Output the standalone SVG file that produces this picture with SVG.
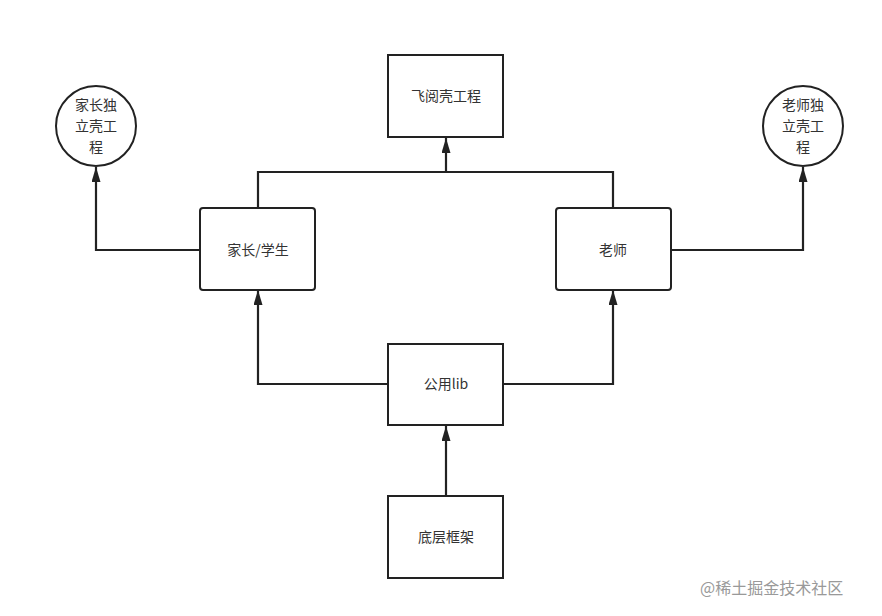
<svg xmlns="http://www.w3.org/2000/svg" width="882" height="616" viewBox="0 0 882 616">
<style>
.b{fill:#fff;stroke:#222;stroke-width:2}
.t{font-family:"Noto Sans CJK SC",sans-serif;font-size:14px;fill:#333;text-anchor:middle}
.c{fill:none;stroke:#222;stroke-width:2.2}
.w{font-family:"Noto Sans CJK SC",sans-serif;font-size:16px;fill:#999}
</style>
<defs>
<marker id="m" viewBox="0 0 10 10" refX="10" refY="5" markerWidth="15" markerHeight="9" orient="auto" markerUnits="userSpaceOnUse" preserveAspectRatio="none"><path d="M0,0L10,5L0,10z" fill="#222"/></marker></defs>
<rect width="882" height="616" fill="#fff"/>
<g id="connectors">
<path class="c" marker-end="url(#m)" d="M446,496V426"/>
<path class="c" marker-end="url(#m)" d="M388,384H258V290"/>
<path class="c" marker-end="url(#m)" d="M503,384H613V290"/>
<path class="c" marker-end="url(#m)" d="M258,208V172H446V138"/>
<path class="c" d="M613,208V172H446"/>
<path class="c" marker-end="url(#m)" d="M200,250H96V167"/>
<path class="c" marker-end="url(#m)" d="M671,250H803V167"/>
</g>
<g id="n1"><rect class="b" x="388" y="55" width="115" height="82"/><text class="t" x="446" y="101">飞阅壳工程</text></g>
<g id="n2"><rect class="b" x="200" y="208" width="115" height="82" rx="3"/><text class="t" x="258" y="255">家长/学生</text></g>
<g id="n3"><rect class="b" x="556" y="208" width="115" height="82" rx="3"/><text class="t" x="613" y="255">老师</text></g>
<g id="n4"><rect class="b" x="388" y="344" width="115" height="81"/><text class="t" x="446" y="389">公用lib</text></g>
<g id="n5"><rect class="b" x="388" y="496" width="115" height="82"/><text class="t" x="446" y="542">底层框架</text></g>
<g id="n6"><circle class="b" cx="96" cy="126" r="40" stroke-width="2.5"/><text class="t" x="96" y="110">家长独</text><text class="t" x="96" y="131">立壳工</text><text class="t" x="96" y="152">程</text></g>
<g id="n7"><circle class="b" cx="803" cy="126" r="40" stroke-width="2.5"/><text class="t" x="803" y="110">老师独</text><text class="t" x="803" y="131">立壳工</text><text class="t" x="803" y="152">程</text></g>
<text class="w" x="700" y="594">@稀土掘金技术社区</text>
</svg>
